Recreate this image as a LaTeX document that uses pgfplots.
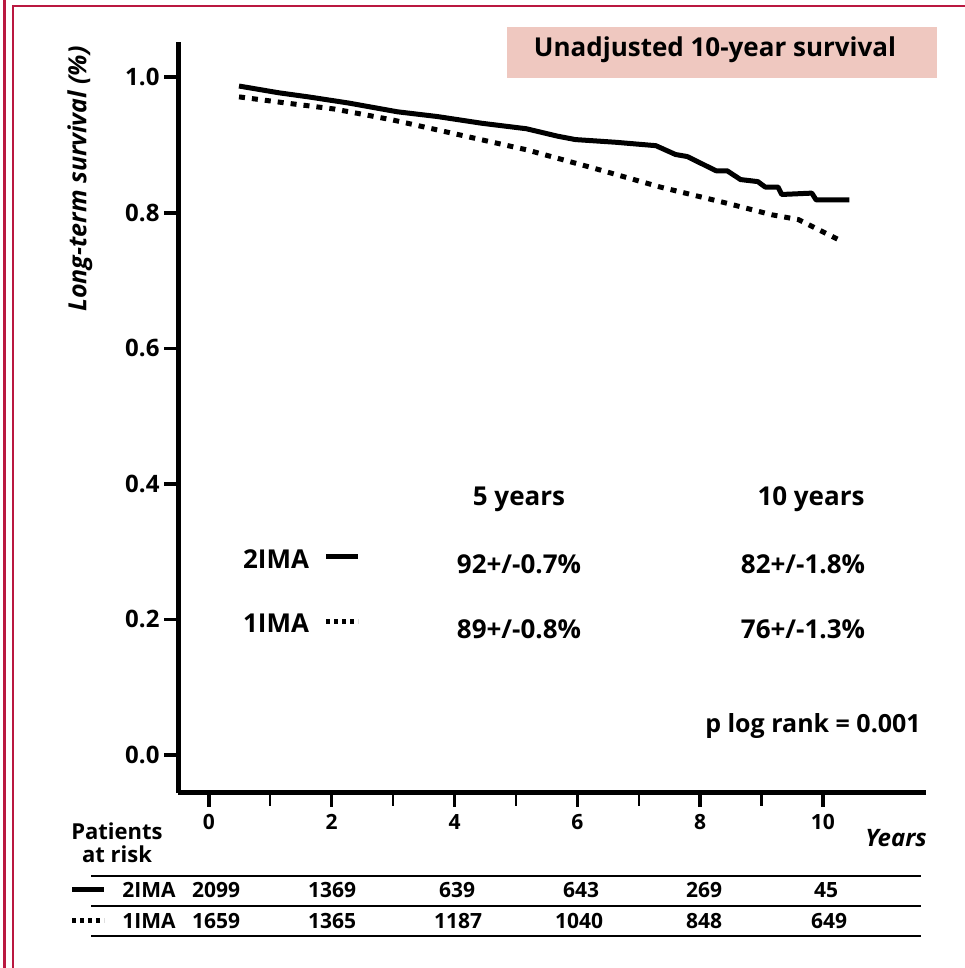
\documentclass[border=0pt]{standalone}
\usepackage{fontspec}
\setmainfont{Open Sans}
\usepackage{pgfplots}
\pgfplotsset{compat=1.18}
\newcommand\fs[1]{\fontsize{#1}{#1}\selectfont}
\definecolor{frame}{RGB}{186,24,64}
\definecolor{boxpink}{RGB}{239,200,192}
\begin{document}
\begin{tikzpicture}
\path[use as bounding box] (0pt,0pt) rectangle (965pt,968pt);
\begin{axis}[
  at={(178pt,175pt)}, anchor=south west, scale only axis,
  width=748pt, height=751pt,
  xmin=-0.504, xmax=11.68, ymin=-0.0561, ymax=1.052,
  axis x line*=bottom, axis y line*=left,
  axis line style={line width=5pt,-},
  xtick={0,2,...,10}, minor xtick={1,3,...,9},
  ytick={0,0.2,0.4,0.6,0.8,1.0},
  tick align=outside, major tick length=14pt, minor tick length=13pt,
  major tick style={line width=3.5pt,black},
  minor tick style={line width=2.2pt,black},
  /pgf/number format/assume math mode=true,
  yticklabel style={/pgf/number format/fixed,/pgf/number format/fixed zerofill,/pgf/number format/precision=1,font=\fs{24}\bfseries, xshift=-1pt},
  xticklabel style={font=\fs{21}\bfseries, yshift=-4pt},
  clip=false,
]
\addplot[black, line width=5pt, line join=round] coordinates {
(0.49,0.987) (1.14,0.977) (1.62,0.971) (2.27,0.962) (3.07,0.949) (3.72,0.942)
(4.45,0.932) (5.17,0.924) (5.68,0.913) (5.97,0.908) (6.63,0.904) (7.28,0.899)
(7.60,0.886) (7.79,0.883) (8.26,0.862) (8.44,0.862) (8.66,0.849) (8.94,0.846)
(9.06,0.838) (9.27,0.838) (9.33,0.827) (9.82,0.829) (9.89,0.819) (10.43,0.819)};
\addplot[black, line width=5pt, dash pattern=on 6pt off 7pt] coordinates {
(0.49,0.971) (1.25,0.962) (2.05,0.953) (2.99,0.937) (4.08,0.915) (5.17,0.893)
(6.26,0.866) (7.35,0.838) (8.44,0.814) (9.17,0.797) (9.60,0.790) (10.33,0.757)};
\end{axis}
\begin{scope}[shift={(0pt,968pt)}, x=1pt, y=-1pt]
% frame
\draw[frame, line width=2.5pt] (4.5,0) -- (4.5,968);
\draw[frame, line width=2.5pt] (13,968) -- (13,6) -- (965,6);
% title box
\fill[boxpink] (507,27) rectangle (937,78);
\node[font=\fs{26}\bfseries] at (715,50) {Unadjusted 10-year survival};
% y label
\node[font=\fs{25}\bfseries\itshape, rotate=90] at (80,179) {Long-term survival (\%)};
% annotation table
\node[font=\fs{26}\bfseries] at (519,499) {5 years};
\node[font=\fs{26}\bfseries] at (811,499) {10 years};
\node[font=\fs{26}\bfseries] at (276,559) {2IMA};
\draw[line width=5pt] (326,557) -- (358,557);
\node[font=\fs{26}\bfseries] at (276,623) {1IMA};
\draw[line width=5pt, dash pattern=on 4pt off 4pt] (326,622) -- (358,622);
\node[font=\fs{26}\bfseries] at (519,564) {92+/-0.7\%};
\node[font=\fs{26}\bfseries] at (803,564) {82+/-1.8\%};
\node[font=\fs{26}\bfseries] at (519,629) {89+/-0.8\%};
\node[font=\fs{26}\bfseries] at (803,629) {76+/-1.3\%};
\node[font=\fs{25}\bfseries] at (813,726) {p log rank = 0.001};
% patients at risk
\node[font=\fontsize{22}{23}\selectfont\bfseries, align=center] at (117,843) {Patients\\at risk};
\node[font=\fs{24}\bfseries\itshape] at (896,838) {Years};
\draw[line width=1.5pt] (91,876) -- (921,876);
\draw[line width=1.5pt] (91,906) -- (921,906);
\draw[line width=1.5pt] (91,936) -- (921,936);
\draw[line width=5pt] (72,890) -- (104,890);
\draw[line width=5pt, dash pattern=on 4pt off 4pt] (72,921) -- (104,921);
\node[font=\fs{21}\bfseries] at (149,890) {2IMA};
\node[font=\fs{21}\bfseries] at (149,921) {1IMA};
\foreach \x/\v in {216/2099,332/1369,457/639,581/643,704/269,826/45}
  \node[font=\fs{21}\bfseries] at (\x,890) {\v};
\foreach \x/\v in {216/1659,332/1365,458/1187,579/1040,704/848,829/649}
  \node[font=\fs{21}\bfseries] at (\x,921) {\v};
\end{scope}
\end{tikzpicture}
\end{document}
